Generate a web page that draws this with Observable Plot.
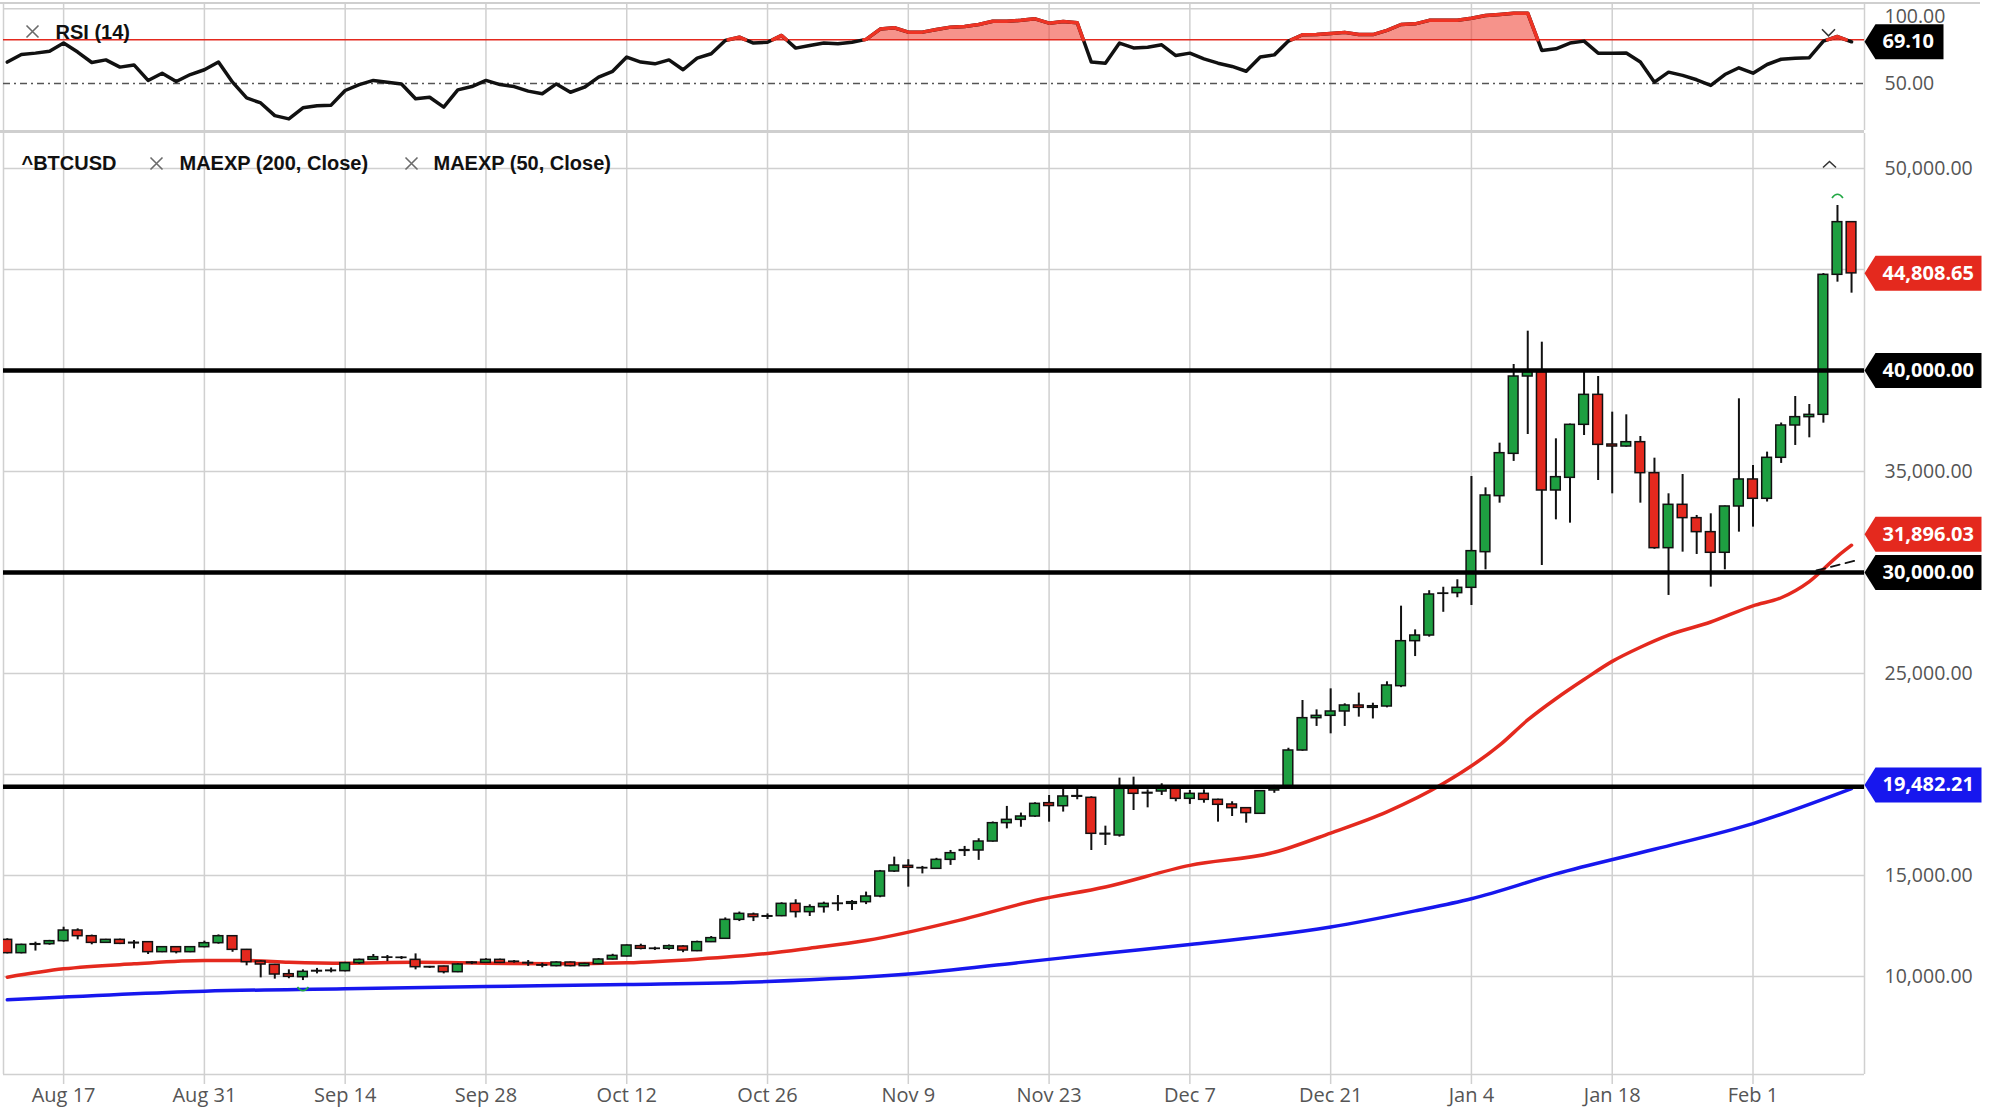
<!DOCTYPE html>
<html><head><meta charset="utf-8">
<script src="https://cdn.jsdelivr.net/npm/d3@7"></script>
<script src="https://cdn.jsdelivr.net/npm/@observablehq/plot@0.6"></script>
<style>
html,body{margin:0;padding:0;background:#fff;}
#wrap{position:relative;width:2000px;height:1120px;overflow:hidden;background:#fff;}
#rsi{position:absolute;left:0;top:0;}
#price{position:absolute;left:0;top:133px;}
.topline{position:absolute;left:0;top:2px;width:1980px;height:1.5px;background:#cfcfcf;}
.divider{position:absolute;left:0;top:130px;width:1864px;height:3px;background:#cfcfcf;}
</style></head><body>
<div id="wrap"><div id="rsi"></div><div id="price"></div><div class="topline"></div><div class="divider"></div></div>
<script>
// ---- DATA (weekday candles, index 0 = Aug 11 2020 ... 131 = Feb 10 2021) ----
const open = [11815,11155,11570,11600,11749,12277,11996,11666,11815,11640,
11700,11205,11452,11205,11452,11650,11996,11320,10742,10578,
10115,9967,10250,10270,10264,10660,10825,10940,10930,10825,
10470,10495,10214,10660,10676,10825,10720,10670,10560,10512,
10693,10512,10611,10841,10991,11503,11380,11371,11486,11255,
11701,11866,12806,13070,12960,12987,13598,13186,13433,13590,
13598,13680,13961,15198,15479,15370,15330,15776,16220,16238,
16683,17591,17756,17921,18581,18430,18930,18846,17064,16981,
19291,19060,19159,19291,18796,19044,18747,18516,18334,18054,
19209,19325,21189,22789,22905,23120,23417,23301,23367,24373,
26601,26881,28945,28978,29242,31007,33780,35875,39703,39918,
34060,34687,37311,38796,36337,36238,36452,34918,31205,33352,
32692,31998,30976,33269,34606,33649,35678,37278,37691,37806,
44737,47344];
const close = [11155,11567,11600,11749,12277,11996,11666,11815,11617,11670,
11205,11452,11205,11452,11650,11996,11320,10710,10594,10099,
9984,10231,10275,10290,10660,10825,10957,10930,10920,10462,
10450,10214,10594,10690,10825,10676,10735,10650,10540,10693,
10512,10627,10841,11023,11536,11371,11365,11503,11288,11701,
11900,12806,13103,12938,12985,13598,13186,13433,13598,13610,
13680,13961,15198,15495,15380,15355,15776,16106,16255,16683,
17591,17756,17921,18548,18440,18912,18900,17064,17031,19291,
19044,19090,19291,18796,19044,18747,18500,18334,18087,19176,
19325,21189,22789,22905,23120,23417,23301,23380,24406,26601,
26881,28911,28960,29242,31057,33813,35908,39703,39918,34060,
34720,37311,38796,36320,36238,36452,34918,31205,33352,32692,
31998,30976,33269,34606,33649,35678,37278,37691,37806,44737,
47344,44808.65];
const high = [11870,11600,11700,11790,12440,12360,12050,11840,11850,11780,
11720,11480,11480,11470,11750,12060,12000,11340,10780,10600,
10330,10330,10400,10420,10700,10860,11090,11040,10990,11120,
10500,10510,10640,10740,10880,10860,10790,10790,10660,10730,
10720,10660,10890,11100,11560,11600,11450,11560,11520,11750,
11980,12900,13190,13140,13100,13650,13800,13550,13680,14010,
13760,14180,15250,15910,15780,15450,15850,16240,16440,16820,
17650,18420,18090,18600,18960,19290,19290,18900,17443,19820,
19869,19240,19540,19320,19210,19240,18780,18650,18340,19200,
19460,21300,23664,23200,24241,23500,24030,23530,24590,28334,
27160,29100,29270,29640,34753,34192,36403,40297,41947,41402,
36618,37350,39918,39703,37938,37806,36733,35660,33896,34853,
32824,32906,33290,38599,35298,35960,37400,38714,38318,44800,
48168,47344];
const low = [11120,11120,11260,11550,11700,11815,11570,11640,11580,11370,
11090,11180,11120,11180,11420,11600,11200,10530,9934,9870,
9890,9800,10130,10180,10230,10600,10800,10740,10840,10330,
10400,10130,10190,10590,10640,10640,10660,10500,10430,10480,
10480,10490,10590,10820,10970,11320,11290,11300,11180,11230,
11680,11840,12720,12720,12820,12960,12900,12970,13140,13230,
13270,13560,13900,15150,14423,15080,15300,15500,15940,15750,
16650,17310,17390,17880,17640,18140,18750,16239,16486,16900,
18219,18350,18960,18650,18520,18580,17642,17920,17590,18030,
19070,19300,21150,22380,22014,22380,22840,22750,23300,24300,
25840,26800,28030,28750,28368,30133,33433,35500,36832,30348,
32608,32443,36783,34555,33895,36205,33433,31150,28864,31008,
30893,29276,30134,31998,32246,33490,35400,36289,36668,37394,
44374,43829];
const rsi = [59.8,63.3,63.9,64.8,68.5,64.4,59.6,60.8,57.5,58.5,
51.4,54.7,50.9,54.1,56.3,59.8,50.6,43.4,41.1,35.3,
33.8,38.9,39.8,40.1,46.8,49.5,51.4,50.6,49.8,43.0,
43.7,39.2,47.1,48.6,51.4,49.5,48.6,46.5,45.3,49.8,
46.0,48.3,52.9,55.6,62.1,59.8,59.0,60.8,56.3,61.6,
63.6,69.7,71.2,68.5,68.9,72.0,66.2,67.4,68.5,68.2,
68.9,70.2,74.9,75.5,73.5,73.5,74.7,75.8,76.1,77.0,
78.5,78.5,78.9,79.6,77.6,78.4,77.8,59.8,59.3,68.5,
66.3,66.6,67.7,62.8,63.9,61.3,59.3,57.8,55.6,62.1,
63.1,69.4,72.3,72.4,72.9,73.4,72.4,72.4,74.3,77.0,
77.3,78.9,78.9,78.9,79.9,81.1,81.6,82.2,82.2,65.1,
65.9,68.5,69.4,63.9,63.9,64.0,59.8,50.6,55.2,53.7,
51.7,49.1,54.1,57.2,54.7,58.7,61.1,61.6,61.8,69.4,
71.5,69.1];
const ema50Idx = [0,4,9,14,17,20,24,29,34,39,44,49,54,57,61,68,73,78,84,90,94,98,102,106,108,110,112,114,116,118,121,124,126,128,130,131];
const ema50Val = [9967,10380,10627,10790,10790,10710,10660,10700,10660,10630,10680,10860,11140,11400,11780,12850,13760,14430,15500,16150,17100,18150,19550,21450,22700,23750,24700,25600,26300,26900,27550,28350,28750,29550,30800,31350];
const ema200Idx = [0,14,24,34,44,54,64,72,78,84,94,100,104,110,117,124,131];
const ema200Val = [8845,9274,9390,9505,9604,9750,10120,10700,11150,11580,12450,13250,13850,15080,16300,17570,19300];
const trendIdx = [128.5, 131.5];
const trendVal = [30100, 30630];
const levels = [40000, 30000, 19400];
const tickIndex = [4,14,24,34,44,54,64,74,84,94,104,114,124];
const tickLabels = ["Aug 17","Aug 31","Sep 14","Sep 28","Oct 12","Oct 26","Nov 9","Nov 23","Dec 7","Dec 21","Jan 4","Jan 18","Feb 1"];
const priceGrid = [10000,15000,20000,25000,30000,35000,40000,45000,50000];
const priceLabels = [10000,15000,25000,35000,50000];
const badgeValues = [44808.65, 40000, 31896.03, 30000, 19482.21];
const badgeColors = ["#e4291e", "#000000", "#e4291e", "#000000", "#1717ee"];
const rsiLast = 69.10;
const rsiLevels = {over: 70, mid: 50};

// ---- LAYOUT ----
const GREEN = "#1e9f41", RED = "#e4291e", BLUE = "#1717ee";
const xDomain = [-0.27, 131.92];
const priceDomain = [5149, 51733];
const rsiUnit = 2.185; // px per RSI point
const rsiDomain = [50 - 47 / rsiUnit, 50 + 80 / rsiUnit];
const fmt = d3.format(",.2f");
const F = "'Open Sans', sans-serif";
const LF = "'Liberation Sans', Arial, sans-serif";

const candles = open.map((o, i) => ({i, open: o, high: high[i], low: low[i], close: close[i]}));
const up = candles.filter(d => d.close >= d.open);
const down = candles.filter(d => d.close < d.open);
const ema50 = ema50Idx.map((i, k) => ({i, v: ema50Val[k]}));
const ema200 = ema200Idx.map((i, k) => ({i, v: ema200Val[k]}));
const trend = trendIdx.map((i, k) => ({i, v: trendVal[k]}));
const badges = badgeValues.map((v, k) => ({v, color: badgeColors[k]}));
const bw = 0.345;

// symbols
const badgeSym = w => ({draw(c) { c.moveTo(0, 0); c.lineTo(11, -17.5); c.lineTo(w, -17.5); c.lineTo(w, 17.5); c.lineTo(11, 17.5); c.closePath(); }});
const xSym = {draw(c) { c.moveTo(-6, -6); c.lineTo(6, 6); c.moveTo(6, -6); c.lineTo(-6, 6); }};
const chevUp = {draw(c) { c.moveTo(-6.5, 3); c.lineTo(0, -3); c.lineTo(6.5, 3); }};
const chevDown = {draw(c) { c.moveTo(-6.5, -3.3); c.lineTo(0, 3.3); c.lineTo(6.5, -3.3); }};
const arcTop = {draw(c) { c.moveTo(-5.5, 2.5); c.quadraticCurveTo(0, -5, 5.5, 2.5); }};
const arcBot = {draw(c) { c.moveTo(-5.5, -2.5); c.quadraticCurveTo(0, 5, 5.5, -2.5); }};

// RSI with crossings of the overbought level (for red highlighting)
const rsiData = rsi.map((v, i) => ({i, v}));
const aug = [];
for (let i = 0; i < rsi.length; i++) {
  aug.push({i, v: rsi[i]});
  if (i < rsi.length - 1) {
    const a = rsi[i] - rsiLevels.over, b = rsi[i + 1] - rsiLevels.over;
    if (a * b < 0) aug.push({i: i + a / (a - b), v: rsiLevels.over});
  }
}
const redPts = []; let seg = 0, prev = false;
for (const p of aug) { const above = p.v >= rsiLevels.over; if (above) { if (!prev) seg++; redPts.push({...p, z: seg}); } prev = above; }

const gridStyle = {stroke: "#d0d0d0", strokeOpacity: 1, strokeWidth: 1.5};
const legendText = {frameAnchor: "top-left", textAnchor: "start", lineAnchor: "middle", fill: "#111", fontWeight: "bold", fontSize: 20, fontFamily: LF};

// ---- RSI PANEL ----
const rsiPlot = Plot.plot({
  width: 2000, height: 130,
  marginLeft: 3, marginRight: 136, marginTop: 3, marginBottom: 0,
  x: {domain: xDomain, axis: null},
  y: {domain: rsiDomain},
  style: {fontFamily: F, background: "transparent", overflow: "visible"},
  marks: [
    Plot.gridX(tickIndex, gridStyle),
    Plot.ruleY([rsiDomain[1] - 5.3 / rsiUnit], gridStyle),
    Plot.ruleX(xDomain, gridStyle),
    Plot.axisY({anchor: "right", ticks: [rsiLevels.mid], tickFormat: fmt, tickSize: 0, tickPadding: 20, color: "#555", fontSize: 19.5, fontFamily: F, label: null}),
    Plot.text(["100.00"], {text: d => d, frameAnchor: "top-right", dx: 20, dy: 13, textAnchor: "start", lineAnchor: "middle", fill: "#555", fontSize: 19.5, fontFamily: F}),
    Plot.ruleY([rsiLevels.mid], {stroke: "#555", strokeWidth: 1.5, strokeDasharray: "7 4 2 4"}),
    Plot.areaY(aug, {x: "i", y1: rsiLevels.over, y2: d => Math.max(d.v, rsiLevels.over), fill: "#ee3b2b", fillOpacity: 0.55}),
    Plot.ruleY([rsiLevels.over], {stroke: RED, strokeWidth: 1.5}),
    Plot.line(rsiData, {x: "i", y: "v", stroke: "#111", strokeWidth: 3.5, strokeLinejoin: "round"}),
    Plot.line(redPts, {x: "i", y: "v", z: "z", stroke: "#ee3324", strokeWidth: 3.5, strokeLinejoin: "round"}),
    Plot.dot([0], {frameAnchor: "top-right", dx: -36, dy: 29, symbol: chevDown, stroke: "#333", fill: "none", strokeWidth: 1.6}),
    Plot.dot([0], {frameAnchor: "top-left", dx: 29, dy: 28, symbol: xSym, stroke: "#6b6b6b", fill: "none", strokeWidth: 1.6}),
    Plot.text(["RSI (14)"], {...legendText, text: d => d, dx: 52, dy: 29}),
    Plot.dot([rsiLast], {y: d => d, frameAnchor: "right", symbol: badgeSym(79), fill: "#000", stroke: "none"}),
    Plot.text([rsiLast], {y: d => d, text: d => fmt(d), frameAnchor: "right", dx: 18, textAnchor: "start", fill: "white", fontWeight: "bold", fontSize: 20, fontFamily: F})
  ]
});
document.getElementById("rsi").appendChild(rsiPlot);

// ---- PRICE PANEL ----
const hiIdx = d3.maxIndex(high), loIdx = d3.minIndex(low);
const pricePlot = Plot.plot({
  width: 2000, height: 987,
  marginLeft: 3, marginRight: 136, marginTop: 0, marginBottom: 46,
  x: {domain: xDomain},
  y: {domain: priceDomain},
  style: {fontFamily: F, background: "transparent", overflow: "visible"},
  marks: [
    Plot.gridY(priceGrid, gridStyle),
    Plot.gridX(tickIndex, gridStyle),
    Plot.ruleX(xDomain, gridStyle),
    Plot.ruleY([priceDomain[0]], gridStyle),
    Plot.axisX({ticks: tickIndex, tickFormat: i => tickLabels[tickIndex.indexOf(i)], tickSize: 10, tickPadding: 3, color: "#555", stroke: "#d0d0d0", strokeWidth: 1.5, fontSize: 20, fontFamily: F, label: null}),
    Plot.axisY({anchor: "right", ticks: priceLabels, tickFormat: fmt, tickSize: 0, tickPadding: 20, color: "#555", fontSize: 19.5, fontFamily: F, label: null}),
    Plot.line(ema200, {x: "i", y: "v", stroke: BLUE, strokeWidth: 3.5, curve: "monotone-x"}),
    Plot.line(ema50, {x: "i", y: "v", stroke: RED, strokeWidth: 3.5, curve: "monotone-x"}),
    Plot.ruleX(candles, {x: "i", y1: "low", y2: "high", stroke: "#111", strokeWidth: 2, clip: true}),
    Plot.rect(up, {x1: d => d.i - bw, x2: d => d.i + bw, y1: "open", y2: "close", fill: GREEN, stroke: "#111", strokeWidth: 1.5, clip: true}),
    Plot.rect(down, {x1: d => d.i - bw, x2: d => d.i + bw, y1: "open", y2: "close", fill: RED, stroke: "#111", strokeWidth: 1.5, clip: true}),
    Plot.ruleY(levels, {stroke: "#000", strokeWidth: 4.5}),
    Plot.line(trend, {x: "i", y: "v", stroke: "#111", strokeWidth: 1.8, strokeDasharray: "9 6"}),
    Plot.dot([hiIdx], {x: d => d, y: d => high[d], dy: -10, symbol: arcTop, stroke: "#22a845", fill: "none", strokeWidth: 1.6}),
    Plot.dot([loIdx], {x: d => d, y: d => low[d], dy: 9, symbol: arcBot, stroke: "#22a845", fill: "none", strokeWidth: 1.6}),
    Plot.dot([0], {frameAnchor: "top-right", dx: -35, dy: 31, symbol: chevUp, stroke: "#333", fill: "none", strokeWidth: 1.6}),
    Plot.text(["^BTCUSD"], {...legendText, text: d => d, dx: 18, dy: 30}),
    Plot.dot([0], {frameAnchor: "top-left", dx: 153, dy: 30, symbol: xSym, stroke: "#6b6b6b", fill: "none", strokeWidth: 1.6}),
    Plot.text(["MAEXP (200, Close)"], {...legendText, text: d => d, dx: 176, dy: 30}),
    Plot.dot([0], {frameAnchor: "top-left", dx: 408, dy: 30, symbol: xSym, stroke: "#6b6b6b", fill: "none", strokeWidth: 1.6}),
    Plot.text(["MAEXP (50, Close)"], {...legendText, text: d => d, dx: 430, dy: 30}),
    ...badges.map(b => Plot.dot([b], {y: "v", frameAnchor: "right", symbol: badgeSym(117), fill: b.color, stroke: "none"})),
    Plot.text(badges, {y: "v", text: d => fmt(d.v), frameAnchor: "right", dx: 18, textAnchor: "start", fill: "white", fontWeight: "bold", fontSize: 20, fontFamily: F})
  ]
});
document.getElementById("price").appendChild(pricePlot);
</script>
</body></html>
